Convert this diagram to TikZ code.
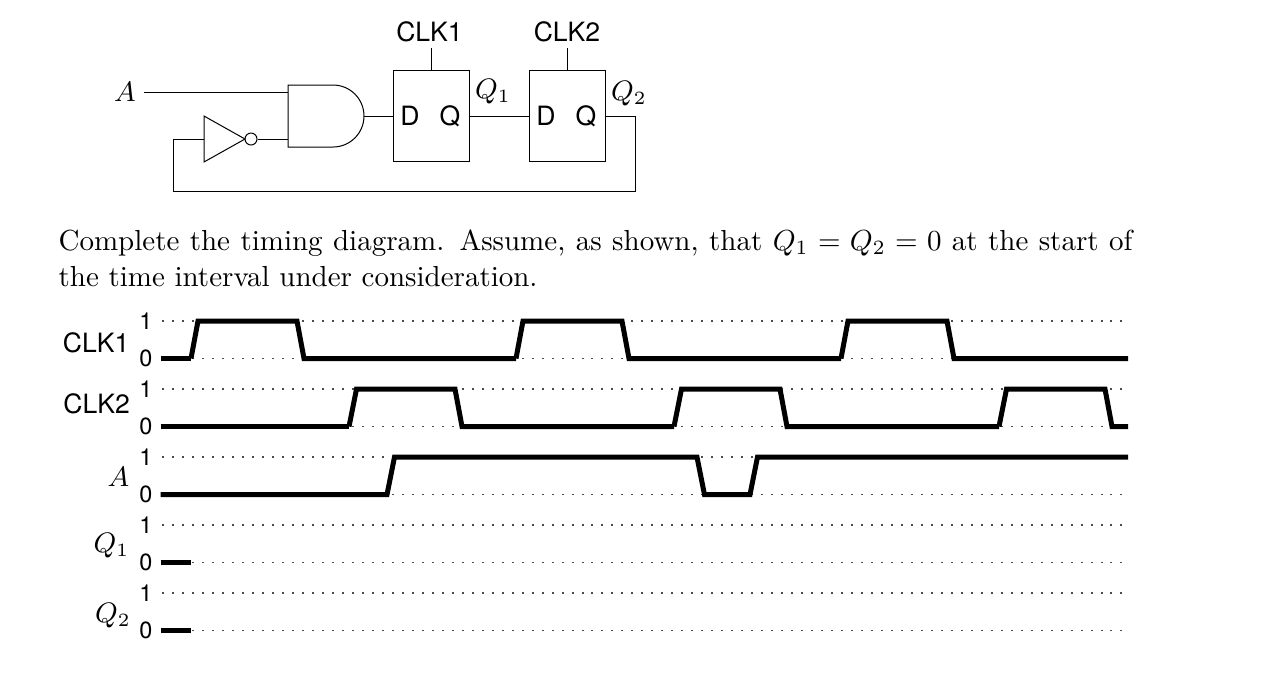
\documentclass[tikz,border=0pt]{standalone}
\usepackage{amsmath, amssymb}
\usepackage{fontspec}
\setsansfont{TeX Gyre Heros}
\usepackage{tikz}
\usetikzlibrary{positioning, calc}
\tikzset{
	wire/.style={line width=0.32pt},
	signal/.style={line width=1.6pt, line join=miter},
	dotline/.style={line width=0.6pt, black!70, dash pattern=on 0.64pt off 2.554pt},
	ffbox/.style={draw, line width=0.32pt, rectangle, minimum width=24.32pt, minimum height=29.12pt, inner sep=0pt},
	bubble/.style={draw, line width=0.32pt, circle, minimum size=3.84pt, inner sep=0pt},
	pinlabel/.style={font=\sffamily\fontsize{8.5}{10}\selectfont, inner sep=0pt},
	level/.style={font=\sffamily\fontsize{7.5}{8}\selectfont, inner sep=0pt},
	rowlabel/.style={font=\sffamily\fontsize{8.5}{10}\selectfont, inner sep=0pt, anchor=east},
	mathlabel/.style={font=\fontsize{9}{11}\selectfont, inner sep=0pt},
	textline/.style={inner sep=0pt, anchor=base west},
}
\begin{document}
\begin{tikzpicture}[x=0.32pt,y=-0.32pt]
	\useasboundingbox (0,0) rectangle (1266,694);

	% circuit
	\node (ff1) at (431,116) [ffbox] {};
	\node (ff2) at (567,116) [ffbox] {};
	\node (d1) at (410,116) [pinlabel] {D};
	\node (q1) at (450,116) [pinlabel] {Q};
	\node (d2) at (546,116) [pinlabel] {D};
	\node (q2) at (586,116) [pinlabel] {Q};
	\node (clk1) at (429.5,32) [pinlabel] {CLK1};
	\node (clk2) at (567,32) [pinlabel] {CLK2};
	\node (a) at (125,92) [mathlabel] {\(A\)};
	\node (q1out) at (493,92) [mathlabel] {\(Q_1\)};
	\node (q2out) at (629,94) [mathlabel] {\(Q_2\)};
	\node (inv) at (251,139) [bubble] {};
	\coordinate (astart) at (144,92);
	\coordinate (ain) at (288,92);
	\coordinate (invin) at (204,139);
	\coordinate (andin) at (288,139);
	\coordinate (andout) at (364,116);
	\coordinate (clk1pin) at (431,48);
	\coordinate (clk2pin) at (567,48);
	\coordinate (backright) at (635,191);
	\coordinate (backleft) at (173,191);

	\draw[wire] (288,85) -- (333,85) arc (-90:90:31) -- (288,147) -- cycle;
	\draw[wire] (204,116) -- (245,139) -- (204,162) -- cycle;

	\draw[wire] (astart) -- (ain);
	\draw[wire] (inv.east) -- (andin);
	\draw[wire] (andout) -- (ff1.west);
	\draw[wire] (ff1.east) -- (ff2.west);
	\draw[wire] (clk1pin) -- (ff1.north);
	\draw[wire] (clk2pin) -- (ff2.north);
	\draw[wire] (ff2.east) -| (backright) -- (backleft) |- (invin);

	% text
	\node (line1) at (58,250) [textline] {\scalebox{0.928}{\hbox to 370.3pt{Complete the timing diagram.  Assume, as shown, that \(Q_1 = Q_2 = 0\) at the start of}}};
	\node (line2) at (58,286) [textline] {\scalebox{0.928}{the time interval under consideration.}};

	% rows
	\foreach \name/\yone/\yzero in {clk1r/321/358.5, clk2r/389/426.5, ar/457/494.5, qar/525/562.5, qbr/593/630.5} {
		\node (\name one) at (146,\yone) [level] {1};
		\node (\name zero) at (146,\yzero) [level] {0};
		\draw[dotline] (162.3,\yone) -- (1124,\yone);
		\draw[dotline] (162.3,\yzero) -- (1124,\yzero);
	}
	\node (clk1row) at (130,343) [rowlabel] {CLK1};
	\node (clk2row) at (130.5,404) [rowlabel] {CLK2};
	\node (arow) at (130,477) [rowlabel, mathlabel, anchor=east] {\(A\)};
	\node (q1row) at (130,546) [rowlabel, mathlabel, anchor=east] {\(Q_1\)};
	\node (q2row) at (131.5,616) [rowlabel, mathlabel, anchor=east] {\(Q_2\)};

	% waveforms
	\draw[signal] (160.5,358.5) -- (191,358.5);
	\foreach \s in {0,325} {
		\draw[signal] ($(191,358.5)+(\s,0)$) -- ($(198,321)+(\s,0)$) -- ($(297,321)+(\s,0)$) -- ($(304,358.5)+(\s,0)$) -- ($(516,358.5)+(\s,0)$);
	}
	\draw[signal] (841,358.5) -- (848,321) -- (947,321) -- (954,358.5) -- (1128,358.5);
	\draw[signal] (160.5,426.5) -- (349,426.5);
	\foreach \s in {0,325} {
		\draw[signal] ($(349,426.5)+(\s,0)$) -- ($(356.5,389)+(\s,0)$) -- ($(455,389)+(\s,0)$) -- ($(462,426.5)+(\s,0)$) -- ($(674,426.5)+(\s,0)$);
	}
	\draw[signal] (999,426.5) -- (1006.5,389) -- (1105,389) -- (1112,426.5) -- (1128,426.5);
	\draw[signal] (160.5,494.5) -- (387,494.5) -- (394.5,457) -- (697,457) -- (704.5,494.5) -- (750,494.5) -- (757.5,457) -- (1128,457);
	\draw[signal] (160.5,562.5) -- (190.5,562.5);
	\draw[signal] (160.5,630.5) -- (190.5,630.5);
\end{tikzpicture}
\end{document}
